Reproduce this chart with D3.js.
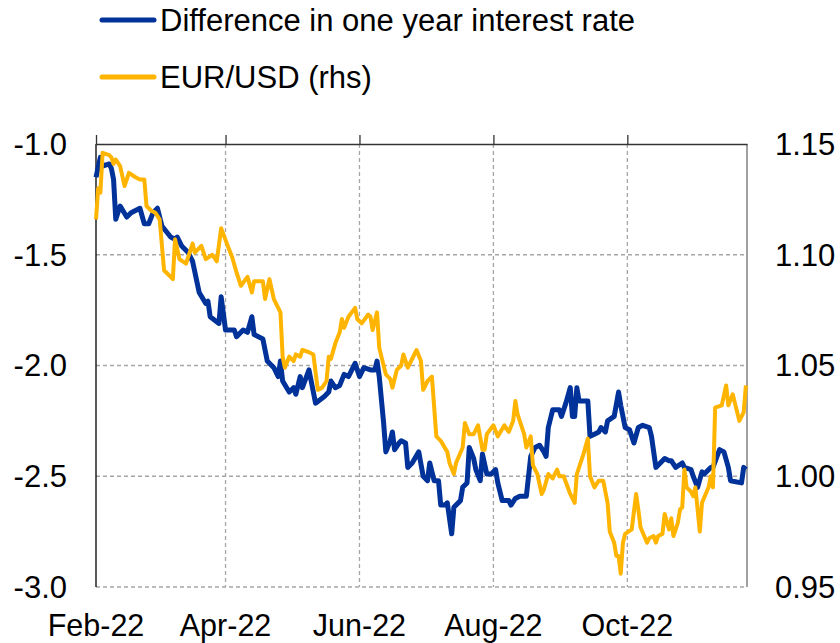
<!DOCTYPE html>
<html>
<head>
<meta charset="utf-8">
<script src="https://cdn.jsdelivr.net/npm/d3@7"></script>
<style>
  body { margin: 0; background: #fff; }
  text { font-family: Arial, "Liberation Sans", sans-serif; fill: #000; }
</style>
</head>
<body>
<div id="chart"></div>
<script>
// series names
var seriesNames = ["Difference in one year interest rate", "EUR/USD (rhs)"];

// month ticks on the x axis
var tickDates = ["2022-02-01", "2022-04-01", "2022-06-01", "2022-08-01", "2022-10-01"];
var tickLabels = ["Feb-22", "Apr-22", "Jun-22", "Aug-22", "Oct-22"];

var leftTicks = [-1.0, -1.5, -2.0, -2.5, -3.0];
var rightTicks = [1.15, 1.10, 1.05, 1.00, 0.95];

// difference in one year interest rate (lhs)
var rateDates = [
  "2022-02-01","2022-02-03","2022-02-04","2022-02-07","2022-02-08","2022-02-09","2022-02-10","2022-02-12","2022-02-15","2022-02-17","2022-02-21","2022-02-23","2022-02-25","2022-02-27",
  "2022-03-01","2022-03-03","2022-03-07","2022-03-09","2022-03-10","2022-03-12","2022-03-15","2022-03-17","2022-03-20","2022-03-23","2022-03-24","2022-03-25","2022-03-29","2022-03-30",
  "2022-04-01","2022-04-05","2022-04-06","2022-04-09","2022-04-11","2022-04-13","2022-04-14","2022-04-18","2022-04-20","2022-04-23","2022-04-25","2022-04-26","2022-04-27","2022-04-30",
  "2022-05-02","2022-05-03","2022-05-05","2022-05-06","2022-05-09","2022-05-10","2022-05-12","2022-05-16","2022-05-18","2022-05-19","2022-05-21","2022-05-23","2022-05-25","2022-05-27","2022-05-30",
  "2022-06-01","2022-06-03","2022-06-06","2022-06-08","2022-06-09","2022-06-10","2022-06-12","2022-06-13","2022-06-15","2022-06-16","2022-06-17","2022-06-19","2022-06-20","2022-06-22","2022-06-23","2022-06-25","2022-06-28","2022-06-30",
  "2022-07-02","2022-07-03","2022-07-05","2022-07-07","2022-07-08","2022-07-10","2022-07-11","2022-07-13","2022-07-14","2022-07-17","2022-07-18","2022-07-20","2022-07-21","2022-07-23","2022-07-24","2022-07-26","2022-07-27","2022-07-29","2022-07-31",
  "2022-08-02","2022-08-03","2022-08-05","2022-08-08","2022-08-09","2022-08-11","2022-08-13","2022-08-16","2022-08-18","2022-08-20","2022-08-22","2022-08-24","2022-08-25","2022-08-26","2022-08-28","2022-08-31",
  "2022-09-01","2022-09-03","2022-09-05","2022-09-06","2022-09-07","2022-09-08","2022-09-09","2022-09-13","2022-09-14","2022-09-16","2022-09-18","2022-09-19","2022-09-21","2022-09-22","2022-09-25","2022-09-27","2022-09-28","2022-09-30",
  "2022-10-02","2022-10-04","2022-10-06","2022-10-08","2022-10-11","2022-10-12","2022-10-14","2022-10-16","2022-10-18","2022-10-20","2022-10-21","2022-10-23","2022-10-26","2022-10-27","2022-10-30","2022-10-31",
  "2022-11-02","2022-11-04","2022-11-05","2022-11-08","2022-11-09","2022-11-12","2022-11-14","2022-11-16","2022-11-17","2022-11-22","2022-11-23","2022-11-24"
];
var rateValues = [
  -1.15,-1.06,-1.10,-1.09,-1.11,-1.16,-1.34,-1.28,-1.33,-1.31,-1.29,-1.36,-1.36,-1.31,
  -1.29,-1.37,-1.42,-1.43,-1.42,-1.46,-1.49,-1.53,-1.67,-1.72,-1.71,-1.78,-1.81,-1.69,
  -1.84,-1.84,-1.87,-1.84,-1.85,-1.78,-1.86,-1.88,-1.98,-2.01,-2.05,-1.98,-2.07,-2.12,
  -2.10,-2.13,-2.05,-2.10,-2.02,-2.07,-2.17,-2.14,-2.12,-2.07,-2.10,-2.09,-2.04,-2.05,-1.99,
  -2.05,-2.01,-2.02,-2.02,-1.98,-2.05,-2.26,-2.39,-2.34,-2.30,-2.38,-2.35,-2.34,-2.35,-2.46,-2.44,-2.39,-2.50,
  -2.52,-2.44,-2.52,-2.52,-2.63,-2.63,-2.62,-2.76,-2.64,-2.61,-2.55,-2.53,-2.37,-2.42,-2.47,-2.52,-2.40,-2.49,-2.49,
  -2.47,-2.53,-2.61,-2.61,-2.63,-2.60,-2.59,-2.59,-2.41,-2.37,-2.36,-2.39,-2.41,-2.28,-2.20,-2.20,
  -2.23,-2.17,-2.10,-2.23,-2.23,-2.10,-2.16,-2.16,-2.32,-2.31,-2.30,-2.28,-2.30,-2.25,-2.23,-2.12,-2.18,-2.28,
  -2.29,-2.35,-2.28,-2.27,-2.28,-2.32,-2.46,-2.44,-2.42,-2.43,-2.43,-2.46,-2.44,-2.46,-2.47,-2.50,
  -2.55,-2.48,-2.49,-2.46,-2.46,-2.38,-2.39,-2.46,-2.52,-2.53,-2.46,-2.47
];

// EUR/USD exchange rate (rhs)
var fxDates = [
  "2022-02-01","2022-02-02","2022-02-03","2022-02-04","2022-02-07","2022-02-08","2022-02-09","2022-02-10","2022-02-12","2022-02-14","2022-02-16","2022-02-19","2022-02-21","2022-02-23","2022-02-24","2022-02-26","2022-02-28",
  "2022-03-02","2022-03-04","2022-03-07","2022-03-08","2022-03-09","2022-03-11","2022-03-14","2022-03-17","2022-03-18","2022-03-21","2022-03-23","2022-03-26","2022-03-28","2022-03-30",
  "2022-04-02","2022-04-04","2022-04-06","2022-04-08","2022-04-11","2022-04-13","2022-04-14","2022-04-18","2022-04-19","2022-04-21","2022-04-23","2022-04-26","2022-04-27","2022-04-28","2022-04-30",
  "2022-05-02","2022-05-03","2022-05-05","2022-05-06","2022-05-09","2022-05-11","2022-05-13","2022-05-15","2022-05-17","2022-05-18","2022-05-19","2022-05-21","2022-05-23","2022-05-24","2022-05-25","2022-05-27","2022-05-30","2022-05-31",
  "2022-06-02","2022-06-05","2022-06-06","2022-06-07","2022-06-09","2022-06-10","2022-06-13","2022-06-15","2022-06-16","2022-06-18","2022-06-20","2022-06-21","2022-06-23","2022-06-27","2022-06-29","2022-06-30",
  "2022-07-02","2022-07-04","2022-07-06","2022-07-08","2022-07-11","2022-07-12","2022-07-14","2022-07-15","2022-07-18","2022-07-19","2022-07-21","2022-07-23","2022-07-25","2022-07-27","2022-07-28","2022-07-29",
  "2022-08-01","2022-08-03","2022-08-06","2022-08-08","2022-08-10","2022-08-11","2022-08-12","2022-08-15","2022-08-16","2022-08-18","2022-08-19","2022-08-21","2022-08-23","2022-08-24","2022-08-26","2022-08-28","2022-08-30","2022-08-31",
  "2022-09-02","2022-09-05","2022-09-07","2022-09-08","2022-09-11","2022-09-13","2022-09-14","2022-09-16","2022-09-18","2022-09-20","2022-09-22","2022-09-23","2022-09-25","2022-09-26","2022-09-27","2022-09-28","2022-09-29","2022-09-30",
  "2022-10-03","2022-10-05","2022-10-06","2022-10-07","2022-10-10","2022-10-11","2022-10-13","2022-10-14","2022-10-15","2022-10-17","2022-10-18","2022-10-20","2022-10-21","2022-10-22","2022-10-24","2022-10-25","2022-10-26","2022-10-27","2022-10-28","2022-10-30","2022-10-31",
  "2022-11-01","2022-11-03","2022-11-04","2022-11-07","2022-11-08","2022-11-09","2022-11-10","2022-11-13","2022-11-15","2022-11-16","2022-11-18","2022-11-21","2022-11-23","2022-11-24"
];
var fxValues = [
  1.116,1.130,1.128,1.146,1.145,1.144,1.141,1.143,1.140,1.131,1.137,1.135,1.134,1.134,1.122,1.120,1.119,
  1.116,1.093,1.090,1.089,1.107,1.098,1.096,1.105,1.101,1.104,1.098,1.100,1.097,1.112,
  1.104,1.099,1.092,1.086,1.090,1.083,1.088,1.088,1.080,1.089,1.080,1.074,1.054,1.049,1.054,
  1.052,1.055,1.054,1.057,1.056,1.055,1.039,1.040,1.043,1.054,1.053,1.060,1.065,1.071,1.067,1.072,1.076,1.071,
  1.069,1.073,1.072,1.066,1.074,1.058,1.046,1.044,1.040,1.048,1.050,1.055,1.049,1.057,1.052,1.039,
  1.043,1.045,1.018,1.016,1.011,1.006,1.001,1.006,1.013,1.024,1.019,1.019,1.023,1.012,1.012,1.019,
  1.023,1.018,1.023,1.020,1.025,1.034,1.028,1.019,1.013,1.018,1.005,1.001,0.992,0.994,1.001,0.999,1.003,1.000,
  1.000,0.992,0.988,1.001,1.010,1.017,1.000,0.995,0.998,0.998,0.988,0.975,0.970,0.964,0.964,0.956,0.970,0.974,
  0.976,0.992,0.985,0.977,0.970,0.972,0.973,0.970,0.973,0.974,0.983,0.976,0.981,0.973,0.979,0.985,0.986,1.003,0.995,0.993,0.991,
  0.995,0.975,0.988,0.995,1.000,0.995,1.031,1.032,1.041,1.032,1.037,1.025,1.029,1.041
];

var blue = "#003299";
var yellow = "#ffb400";

var width = 840, height = 643;
var plotLeft = 96, plotRight = 747, plotTop = 144, plotBottom = 587;

var parse = d3.timeParse("%Y-%m-%d");

var svg = d3.select("#chart")
  .append("svg")
  .attr("width", width)
  .attr("height", height);

var x = d3.scaleTime()
  .domain([parse("2022-02-01"), new Date(2022, 10, 24, 12)])
  .range([plotLeft, plotRight]);
var yL = d3.scaleLinear().domain([-3, -1]).range([plotBottom, plotTop]);
var yR = d3.scaleLinear().domain([0.95, 1.15]).range([plotBottom, plotTop]);

var rateData = rateDates.map(function(d, i) { return {date: parse(d), value: rateValues[i]}; });
var fxData = fxDates.map(function(d, i) { return {date: parse(d), value: fxValues[i]}; });
var ticks = tickDates.map(parse);

// dashed grid
svg.append("g")
  .selectAll("line")
  .data(leftTicks.slice(1))
  .enter()
  .append("line")
  .attr("x1", plotLeft).attr("x2", plotRight)
  .attr("y1", function(d) { return yL(d); })
  .attr("y2", function(d) { return yL(d); })
  .attr("stroke", "#a6a6a6")
  .attr("stroke-width", 1.3)
  .attr("stroke-dasharray", "4,3");

svg.append("g")
  .selectAll("line")
  .data(ticks.slice(1))
  .enter()
  .append("line")
  .attr("x1", function(d) { return x(d); })
  .attr("x2", function(d) { return x(d); })
  .attr("y1", plotTop).attr("y2", plotBottom)
  .attr("stroke", "#a6a6a6")
  .attr("stroke-width", 1.3)
  .attr("stroke-dasharray", "4,3");

// frame: top axis with upward ticks, left axis, right border
svg.append("line")
  .attr("x1", plotRight).attr("x2", plotRight)
  .attr("y1", plotTop).attr("y2", plotBottom)
  .attr("stroke", "#808080")
  .attr("stroke-width", 1.5);

var xAxis = d3.axisTop(x)
  .tickValues(ticks)
  .tickSize(9)
  .tickSizeOuter(0)
  .tickFormat("");
svg.append("g")
  .attr("transform", "translate(0," + plotTop + ")")
  .call(xAxis)
  .call(function(g) {
    g.selectAll("path, line").attr("stroke", "#333").attr("stroke-width", 1.3);
  });

svg.append("line")
  .attr("x1", plotLeft).attr("x2", plotLeft)
  .attr("y1", plotTop).attr("y2", plotBottom)
  .attr("stroke", "#000")
  .attr("stroke-width", 1.3);

// tick labels (plain hyphen for the minus sign, as in the original)
svg.append("g")
  .selectAll("text")
  .data(ticks)
  .enter()
  .append("text")
  .attr("x", function(d) { return x(d); })
  .attr("y", 636)
  .attr("text-anchor", "middle")
  .style("font-size", "30.5px")
  .text(function(d, i) { return tickLabels[i]; });

svg.append("g")
  .selectAll("text")
  .data(leftTicks)
  .enter()
  .append("text")
  .attr("x", 67)
  .attr("y", function(d) { return yL(d); })
  .attr("dy", "0.35em")
  .attr("text-anchor", "end")
  .style("font-size", "31px")
  .text(function(d) { return d.toFixed(1); });

svg.append("g")
  .selectAll("text")
  .data(rightTicks)
  .enter()
  .append("text")
  .attr("x", 775)
  .attr("y", function(d) { return yR(d); })
  .attr("dy", "0.35em")
  .attr("text-anchor", "start")
  .style("font-size", "31px")
  .text(function(d) { return d.toFixed(2); });

// lines
var rateLine = d3.line()
  .x(function(d) { return x(d.date); })
  .y(function(d) { return yL(d.value); });
var fxLine = d3.line()
  .x(function(d) { return x(d.date); })
  .y(function(d) { return yR(d.value); });

svg.append("path")
  .datum(rateData)
  .attr("d", rateLine)
  .attr("fill", "none")
  .attr("stroke", blue)
  .attr("stroke-width", 5)
  .attr("stroke-linejoin", "round");

svg.append("path")
  .datum(fxData)
  .attr("d", fxLine)
  .attr("fill", "none")
  .attr("stroke", yellow)
  .attr("stroke-width", 4)
  .attr("stroke-linejoin", "round");

// legend
var legend = svg.append("g")
  .selectAll("g")
  .data(seriesNames)
  .enter()
  .append("g")
  .attr("transform", function(d, i) { return "translate(0," + (20 + i * 57) + ")"; });

legend.append("line")
  .attr("x1", 102).attr("x2", 154)
  .attr("y1", 0).attr("y2", 0)
  .attr("stroke", function(d, i) { return i == 0 ? blue : yellow; })
  .attr("stroke-width", 5)
  .attr("stroke-linecap", "round");

legend.append("text")
  .attr("x", 160)
  .attr("y", 11)
  .style("font-size", "31px")
  .text(function(d) { return d; });
</script>
</body>
</html>
